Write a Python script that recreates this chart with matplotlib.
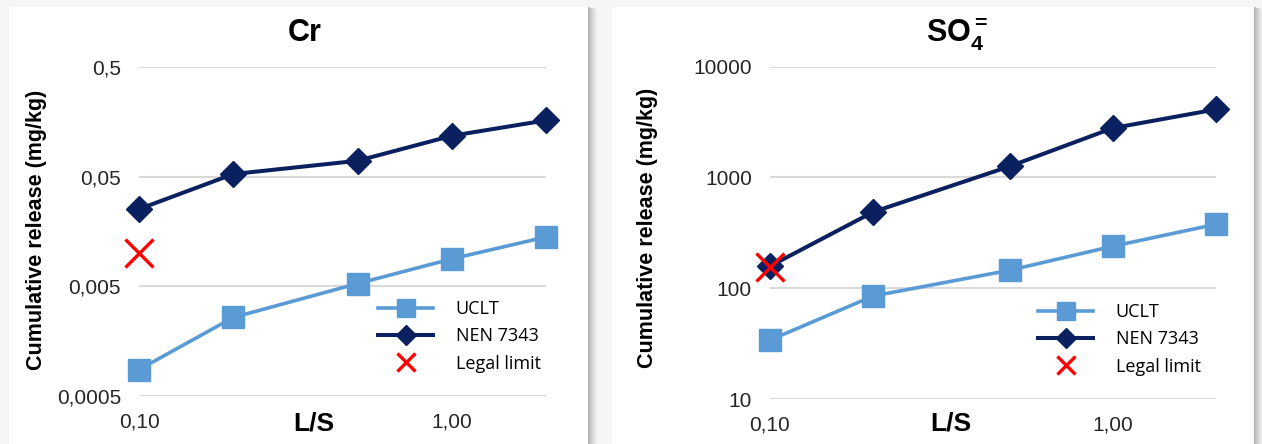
import matplotlib
matplotlib.use("Agg")
import matplotlib.pyplot as plt
from matplotlib.lines import Line2D
from matplotlib.patches import Rectangle

# cumulative release vs liquid/solid ratio
ls = [0.1, 0.2, 0.5, 1.0, 2.0]

cr_uclt = [0.00087, 0.0026, 0.0053, 0.0089, 0.0141]
cr_nen = [0.0253, 0.0528, 0.0698, 0.118, 0.163]
cr_limit = 0.01

so4_uclt = [34, 85, 145, 239, 377]
so4_nen = [158, 487, 1256, 2782, 4100]
so4_limit = 155

cr_yticks = [0.0005, 0.005, 0.05, 0.5]
cr_ylabels = ["0,0005", "0,005", "0,05", "0,5"]
so4_yticks = [10, 100, 1000, 10000]
so4_ylabels = ["10", "100", "1000", "10000"]
xticks = [0.1, 1.0]
xlabels = ["0,10", "1,00"]

W, H = 1262, 444
C_UCLT = "#5b9bd5"
C_NEN = "#0b215f"
C_LIM = "#ff0000"
C_GRID = "#d9d9d9"
C_TXT = "#262626"

plt.rcParams["font.family"] = ["Liberation Sans", "DejaVu Sans"]
plt.rcParams["mathtext.fontset"] = "custom"
plt.rcParams["mathtext.rm"] = "Liberation Sans"
plt.rcParams["mathtext.bf"] = "Liberation Sans:bold"


def fx(px):
    return px / W


def fy(py):
    return 1 - py / H


fig = plt.figure(figsize=(W / 100, H / 100), dpi=100, facecolor="#f6f6f6")

# white cards with a soft shadow on the right
for x0, x1 in [(9, 588), (612, 1254)]:
    for i in range(10):
        fig.patches.append(Rectangle((fx(x1 + i), 0), fx(1), fy(7 + i * 0.3),
                                     transform=fig.transFigure, color="#7f7f7f",
                                     alpha=0.55 * (1 - i / 10) ** 1.5, lw=0, zorder=-2))
    fig.patches.append(Rectangle((fx(x0), 0), fx(x1 - x0), fy(7),
                                 transform=fig.transFigure, color="white", lw=0, zorder=-1))


def panel(rect, uclt, nen, limit, yticks, ylabels, ylim, legend_px):
    ax = fig.add_axes(rect)
    ax.set_facecolor("none")
    ax.set_xscale("log")
    ax.set_yscale("log")
    ax.set_xlim(0.1, 2.0)
    ax.set_ylim(*ylim)
    for s in ax.spines.values():
        s.set_visible(False)
    ax.set_yticks(yticks)
    ax.set_yticklabels(ylabels)
    ax.set_xticks(xticks)
    ax.set_xticklabels(xlabels)
    ax.minorticks_off()
    ax.tick_params(axis="both", length=0, labelsize=15, colors=C_TXT)
    ax.tick_params(axis="y", pad=13)
    ax.tick_params(axis="x", pad=12)
    ax.grid(axis="y", color=C_GRID, lw=1.5)
    ax.set_axisbelow(True)

    ax.plot(ls, uclt, color=C_UCLT, lw=2.6, marker="s", ms=16, mec=C_UCLT,
            clip_on=False, zorder=3)
    ax.plot(ls, nen, color=C_NEN, lw=2.9, marker="D", ms=13.5, mec=C_NEN,
            clip_on=False, zorder=4)
    ax.plot([ls[0]], [limit], ls="none", marker="x", ms=20, mew=2.4,
            color=C_LIM, clip_on=False, zorder=5)

    handles = [
        Line2D([], [], color=C_UCLT, lw=2.6, marker="s", ms=13),
        Line2D([], [], color=C_NEN, lw=2.9, marker="D", ms=10),
        Line2D([], [], ls="none", marker="x", ms=12.5, mew=2.4, color=C_LIM),
    ]
    ax.legend(handles, ["UCLT", "NEN 7343", "Legal limit"],
              loc="upper left", bbox_to_anchor=(fx(legend_px[0]), fy(legend_px[1])),
              bbox_transform=fig.transFigure, frameon=False,
              borderpad=0, borderaxespad=0, handlelength=3.05,
              handletextpad=1.25, labelspacing=0.52,
              prop={"family": "Open Sans", "size": 13})
    return ax


ax1 = panel([fx(139), fy(396), fx(546 - 139), (396 - 67) / H],
            cr_uclt, cr_nen, cr_limit, cr_yticks, cr_ylabels, (0.0005, 0.5), (378, 300))
ax2 = panel([fx(770), fy(399), fx(1216 - 770), (399 - 66.5) / H],
            so4_uclt, so4_nen, so4_limit, so4_yticks, so4_ylabels, (10, 10000), (1038, 303))

ylab = "Cumulative release (mg/kg)"
fig.text(fx(37), fy(230), ylab, rotation=90, ha="center", va="center",
         fontsize=15.5, fontweight="bold", color="black")
fig.text(fx(647), fy(228), ylab, rotation=90, ha="center", va="center",
         fontsize=15.5, fontweight="bold", color="black")

fig.text(fx(305), fy(33), "Cr", ha="center", va="center", fontsize=22,
         fontweight="bold", color="black")
fig.text(fx(957), fy(35), r"$\mathbf{SO_4^=}$", ha="center", va="center",
         fontsize=22, color="black")

fig.text(fx(314), fy(423), "L/S", ha="center", va="center", fontsize=19,
         fontweight="bold", color="black")
fig.text(fx(951), fy(423), "L/S", ha="center", va="center", fontsize=19,
         fontweight="bold", color="black")

fig.savefig("out.png", dpi=100, facecolor=fig.get_facecolor())
